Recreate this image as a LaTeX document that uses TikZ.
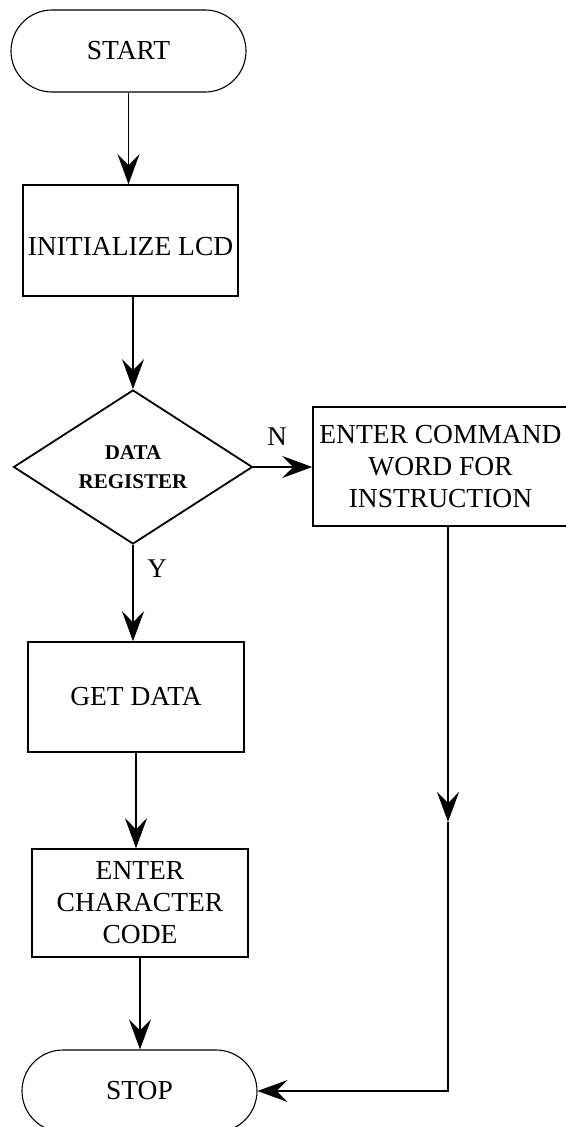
\documentclass[tikz,border=0pt]{standalone}
\usepackage{fontspec}
\setmainfont{Liberation Serif}
\usetikzlibrary{shapes.geometric,arrows.meta}
\begin{document}
\begin{tikzpicture}[x=1pt,y=-1pt,
  every node/.style={font=\fontsize{27.5}{32}\selectfont},
  terminal/.style={draw, rectangle, rounded corners=41pt, line width=1.1pt,
    minimum width=235pt, minimum height=82pt, inner sep=0pt},
  procbox/.style={draw, rectangle, line width=1.5pt, align=center, inner sep=0pt},
  decision/.style={draw, diamond, aspect=1.5, line width=1.8pt, align=center,
    inner sep=0pt, minimum width=239pt, minimum height=154pt,
    font=\bfseries\fontsize{21}{29}\selectfont},
  flow/.style={line width=1.2pt, -{Stealth[length=30pt,width=22pt,inset=11pt]}},
  tag/.style={font=\fontsize{27}{32}\selectfont}
]
\useasboundingbox (0,0) rectangle (565,1127);

% blocks
\node[terminal] (start) at (128.5,51) {START};
\node[procbox, minimum width=215pt, minimum height=111pt] (init) at (130.5,240.5) {};
\node (initlbl) at (130.5,247) {INITIALIZE LCD};
\node[decision] (reg) at (133,467) {DATA\\REGISTER};
\node[procbox, minimum width=255pt, minimum height=119pt] (cmd) at (440.5,466.5)
  {ENTER COMMAND\\WORD FOR\\INSTRUCTION};
\node[procbox, minimum width=216pt, minimum height=110pt] (get) at (136,697) {GET DATA};
\node[procbox, minimum width=216pt, minimum height=108pt] (chr) at (140,903)
  {ENTER\\CHARACTER\\CODE};
\node[terminal] (stop) at (139.5,1091) {STOP};

% branch labels
\node[tag] (nlab) at (277,437) {N};
\node[tag] (ylab) at (157,569) {Y};

% main flow
\draw[flow] (start.south) -- (start.south |- init.north);
\draw[flow] (reg.north |- init.south) -- (reg.north);
\draw[flow] (reg.east) -- (reg.east -| cmd.west);
\draw[flow] (reg.south) -- (reg.south |- get.north);
\draw[flow] (get.south) -- (get.south |- chr.north);
\draw[flow] (chr.south) -- (chr.south |- stop.north);

% command branch back to STOP
\coordinate (mid) at (448,822);
\coordinate (turn) at (448,1091);
\draw[flow] (cmd.south -| mid) -- (mid);
\draw[flow] (mid) -- (turn) -- (stop.east);
\end{tikzpicture}
\end{document}
